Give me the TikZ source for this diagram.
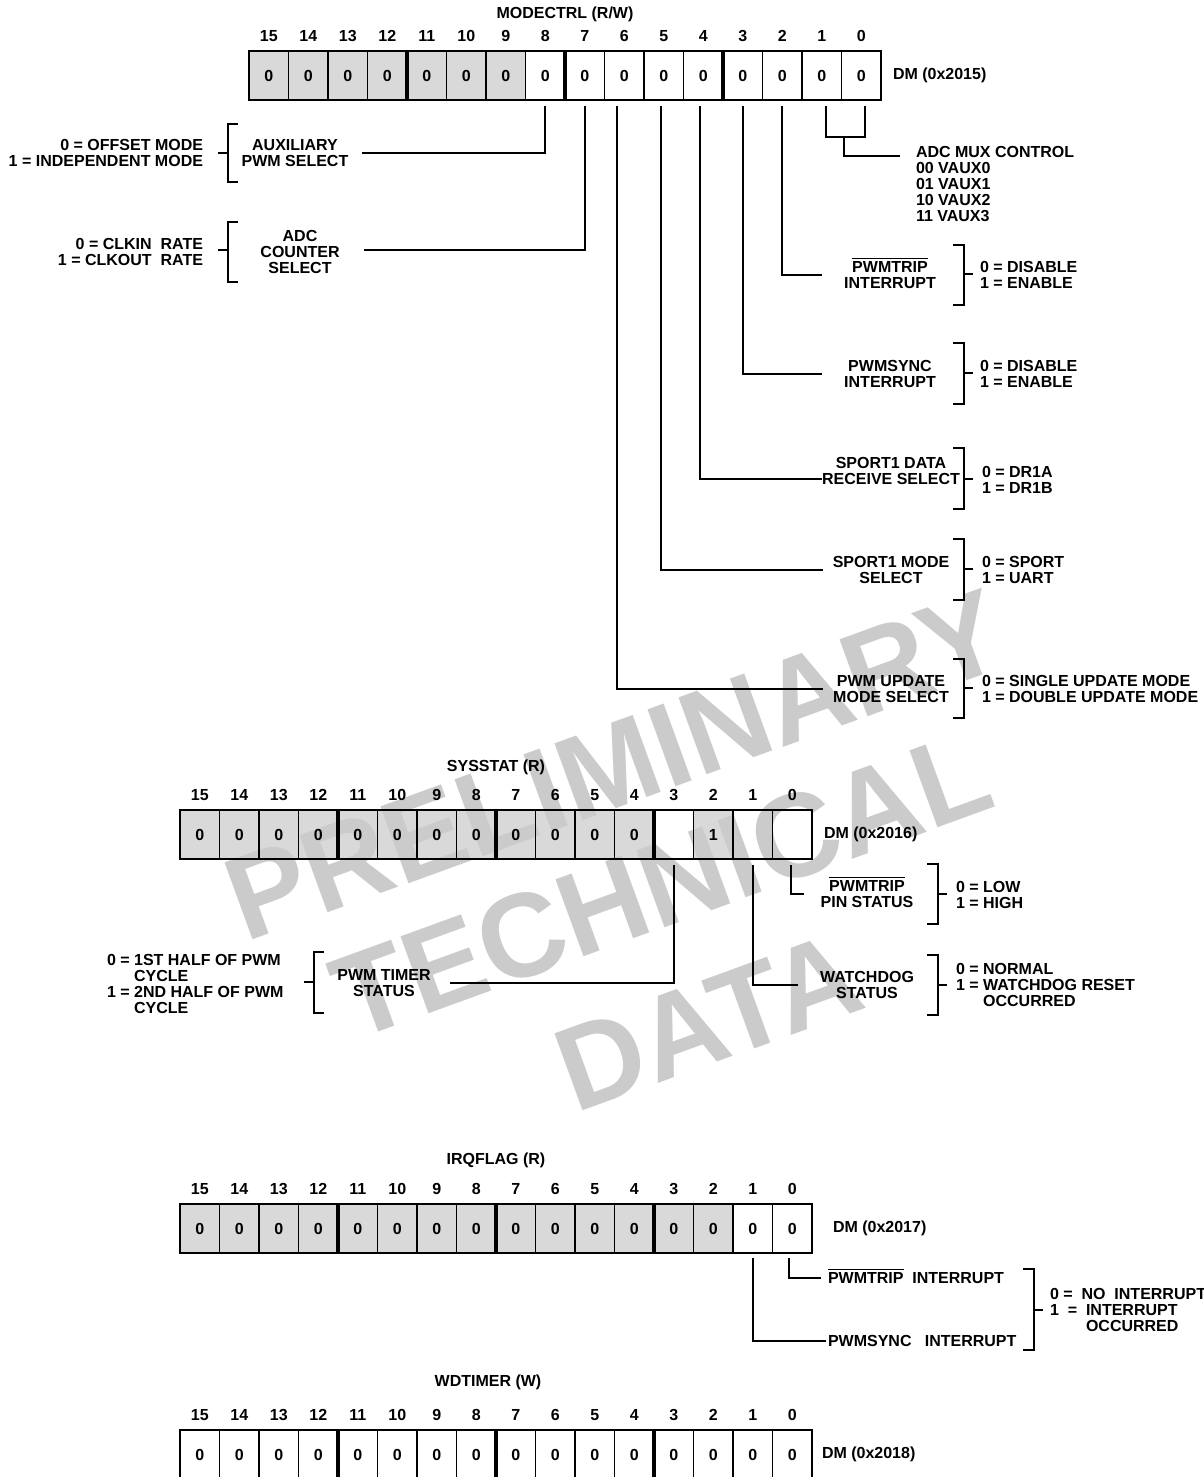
\documentclass[tikz,border=0pt]{standalone}
\usepackage{fontspec}
\setmainfont{Liberation Sans}
\usetikzlibrary{calc}
\pgfdeclarelayer{bg}
\pgfdeclarelayer{wm}
\pgfsetlayers{bg,wm,main}
\definecolor{cellgray}{HTML}{D9D9D9}
\definecolor{wmgray}{HTML}{CBCBCB}
\newcommand\myovl[1]{\setbox0\hbox{#1}\rlap{\smash{\rule[13pt]{\wd0}{1.1pt}}}\box0}
\tikzset{
  txt/.style={font=\fontsize{16}{16}\selectfont\bfseries, inner sep=0pt, outer sep=0pt, align=center},
  lft/.style={txt, align=left, anchor=west},
  rgt/.style={txt, align=right, anchor=east},
  conn/.style={line width=1.6pt},
  cellnode/.style={draw, line width=1.3pt, minimum width=39.5pt, minimum height=49pt, inner sep=0pt, outer sep=0pt, anchor=north west, font=\fontsize{16}{16}\selectfont\bfseries},
  sepline/.style={line width=3.3pt},
  frameline/.style={line width=2pt},
  wmark/.style={font=\fontsize{119}{119}\selectfont\bfseries, text=wmgray, rotate=20, inner sep=0pt},
}
% #1 prefix, #2 x0, #3 top, #4 list value/fill (bit 15 first)
\newcommand\drawreg[4]{%
  \begin{pgfonlayer}{bg}
    \foreach \cv/\cf [count=\k from 0] in {#4} {
      \ifnum\cf=1 \fill[cellgray] (#2+\k*39.5,#3) rectangle ++(39.5,49); \fi
    }
  \end{pgfonlayer}
  \foreach \cv/\cf [count=\k from 0] in {#4} {
    \pgfmathtruncatemacro\bitno{15-\k}
    \node[cellnode] (#1\bitno) at (#2+\k*39.5,#3) {\cv};
    \node[txt] (#1n\bitno) at ($(#1\bitno.north)+(0,-15)$) {\bitno};
  }
  \draw[frameline] (#15.north west) rectangle (#10.south east);
  \foreach \b in {12,8,4} \draw[sepline] (#1\b.north east) -- (#1\b.south east);
}
\newcommand\lbrk[4]{\draw[conn] (#1+10,#2) -- (#1,#2) -- (#1,#3) -- (#1+10,#3); \draw[conn] (#1,#4) -- (#1-10,#4);}
\newcommand\rbrk[4]{\draw[conn] (#1-11,#2) -- (#1,#2) -- (#1,#3) -- (#1-11,#3); \draw[conn] (#1,#4) -- (#1+9,#4);}
\begin{document}
\begin{tikzpicture}[x=1pt,y=-1pt]
\useasboundingbox (0,0) rectangle (1204,1477);
\begin{pgfonlayer}{bg}
  \fill[white] (0,0) rectangle (1204,1477);
\end{pgfonlayer}
% watermark
\begin{pgfonlayer}{wm}
  \node[wmark] (wm1) at (615,765) {PRELIMINARY};
  \node[wmark] (wm2) at (662,885) {TECHNICAL};
  \node[wmark] (wm3) at (708,1022) {DATA};
\end{pgfonlayer}

% ================= MODECTRL =================
\drawreg{m}{249}{51}{0/1,0/1,0/1,0/1,0/1,0/1,0/1,0/0,0/0,0/0,0/0,0/0,0/0,0/0,0/0,0/0}
\node[txt] (mt) at (565,14) {MODECTRL (R/W)};
\node[txt,anchor=west] (mdm) at ($(m0.east)+(12,0)$) {DM (0x2015)};

\node[txt] (aux) at (295,153) {AUXILIARY\\PWM SELECT};
\node[rgt] (auxv) at (203,153) {0 = OFFSET MODE\\1 = INDEPENDENT MODE};
\draw[conn] ([yshift=-6pt]m8.south) |- ([xshift=14pt]aux.east);
\lbrk{228}{124}{182}{153}

\node[txt] (adc) at (300,252) {ADC\\COUNTER\\SELECT};
\node[rgt] (adcv) at (203,252) {0 = CLKIN\ \ RATE\\1 = CLKOUT\ \ RATE};
\draw[conn] ([yshift=-6pt]m7.south) |- ([xshift=24pt,yshift=2pt]adc.east);
\lbrk{228}{222}{282}{250}

\coordinate (muxj) at (844,137);
\draw[conn] ([xshift=4pt,yshift=-6pt]m1.south) |- (muxj) -| ([xshift=4pt,yshift=-6pt]m0.south);
\node[lft] (mux) at (916,184) {ADC MUX CONTROL\\00 VAUX0\\01 VAUX1\\10 VAUX2\\11 VAUX3};
\draw[conn] (muxj) |- ([xshift=-16pt,yshift=28pt]mux.west);

\node[txt] (ptr) at (890,275) {\myovl{PWMTRIP}\\INTERRUPT};
\node[lft] (ptrv) at (980,275) {0 = DISABLE\\1 = ENABLE};
\draw[conn] ([yshift=-6pt]m2.south) |- ([xshift=-22pt]ptr.west);
\rbrk{964}{245}{305}{274}

\node[txt] (psy) at (890,374) {PWMSYNC\\INTERRUPT};
\node[lft] (psyv) at (980,374) {0 = DISABLE\\1 = ENABLE};
\draw[conn] ([yshift=-6pt]m3.south) |- ([xshift=-22pt]psy.west);
\rbrk{964}{343}{404}{373}

\node[txt] (sp1) at (891,471) {SPORT1 DATA\\RECEIVE SELECT};
\node[lft] (sp1v) at (982,480) {0 = DR1A\\1 = DR1B};
\draw[conn] ([xshift=-3pt,yshift=-6pt]m4.south) |- ([yshift=-8pt]sp1.west);
\rbrk{964}{448}{509}{479}

\node[txt] (sp2) at (891,570) {SPORT1 MODE\\SELECT};
\node[lft] (sp2v) at (982,570) {0 = SPORT\\1 = UART};
\draw[conn] ([xshift=-3pt,yshift=-6pt]m5.south) |- ([xshift=-10pt]sp2.west);
\rbrk{964}{539}{600}{569}

\node[txt] (pwu) at (891,689) {PWM UPDATE\\MODE SELECT};
\node[lft] (pwuv) at (982,689) {0 = SINGLE UPDATE MODE\\1 = DOUBLE UPDATE MODE};
\draw[conn] ([xshift=-7pt,yshift=-6pt]m6.south) |- ([xshift=-10pt]pwu.west);
\rbrk{964}{659}{718}{688}

% ================= SYSSTAT =================
\drawreg{s}{180}{810}{0/1,0/1,0/1,0/1,0/1,0/1,0/1,0/1,0/1,0/1,0/1,0/1,{}/0,1/1,{}/0,{}/0}
\node[txt] (st) at (496,767) {SYSSTAT (R)};
\node[txt,anchor=west] (sdm) at ($(s0.east)+(12,0)$) {DM (0x2016)};

\node[txt] (pts) at (867,894) {\myovl{PWMTRIP}\\PIN STATUS};
\node[lft] (ptsv) at (956,895) {0 = LOW\\1 = HIGH};
\draw[conn] ([xshift=-1pt,yshift=-6pt]s0.south) |- ([xshift=-17pt]pts.west);
\rbrk{938}{864}{924}{894}

\node[txt] (wdg) at (867,985) {WATCHDOG\\STATUS};
\node[lft] (wdgv) at (956,985) {0 = NORMAL\\1 = WATCHDOG RESET\\\hphantom{1 = }OCCURRED};
\draw[conn] ([yshift=-6pt]s1.south) |- ([xshift=-22pt]wdg.west);
\rbrk{938}{955}{1015}{985}

\node[txt] (pwt) at (384,983) {PWM TIMER\\STATUS};
\node[lft] (pwtv) at (107,984) {0 = 1ST HALF OF PWM\\\hphantom{0 = }CYCLE\\1 = 2ND HALF OF PWM\\\hphantom{1 = }CYCLE};
\draw[conn] ([yshift=-6pt]s3.south) |- ([xshift=19pt]pwt.east);
\lbrk{314}{952}{1013}{982}

% ================= IRQFLAG =================
\drawreg{i}{180}{1204}{0/1,0/1,0/1,0/1,0/1,0/1,0/1,0/1,0/1,0/1,0/1,0/1,0/1,0/1,0/0,0/0}
\node[txt] (it) at (496,1160) {IRQFLAG (R)};
\node[txt,anchor=west] (idm) at ($(i0.east)+(21,0)$) {DM (0x2017)};

\node[lft] (itr) at (828,1278) {\myovl{PWMTRIP}\ \ INTERRUPT};
\draw[conn] ([xshift=-3pt,yshift=-5pt]i0.south) |- ([xshift=-7pt]itr.west);
\node[lft] (isy) at (828,1341) {PWMSYNC\ \ \ INTERRUPT};
\draw[conn] ([yshift=-5pt]i1.south) |- ([xshift=-2pt]isy.west);
\node[lft] (iv) at (1050,1310) {0 =\ \ NO\ \ INTERRUPT\\1\ \ =\ \ INTERRUPT\\\hphantom{1\ \ =\ \ }OCCURRED};
\rbrk{1034}{1269}{1350}{1310}

% ================= WDTIMER =================
\drawreg{w}{180}{1430}{0/0,0/0,0/0,0/0,0/0,0/0,0/0,0/0,0/0,0/0,0/0,0/0,0/0,0/0,0/0,0/0}
\node[txt] (wt) at (488,1382) {WDTIMER (W)};
\node[txt,anchor=west] (wdm) at ($(w0.east)+(10,0)$) {DM (0x2018)};
\end{tikzpicture}
\end{document}
